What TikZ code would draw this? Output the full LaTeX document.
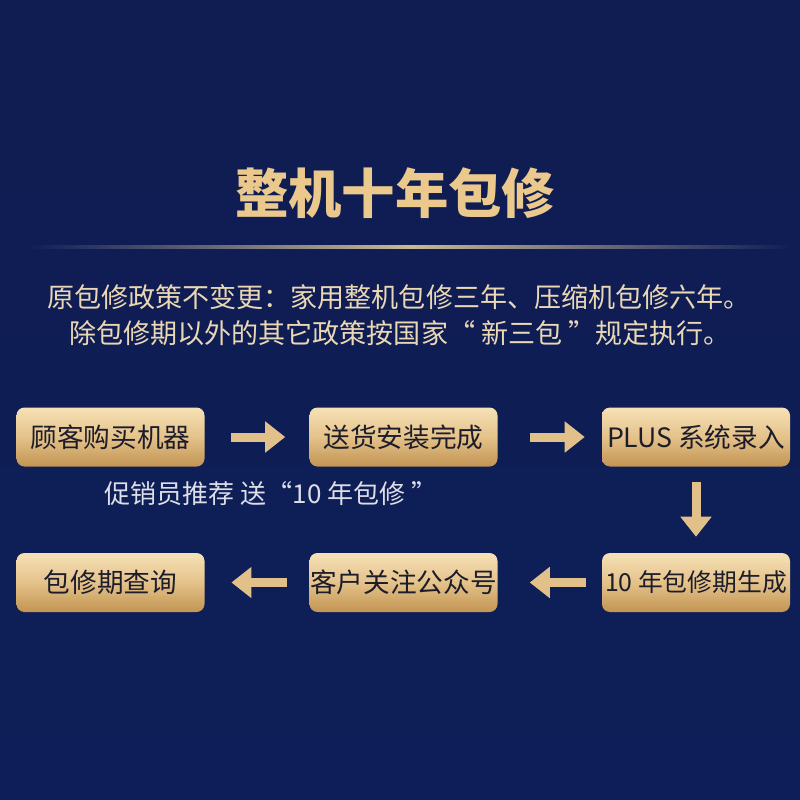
\documentclass[tikz,border=0pt]{standalone}
\usepackage{fontspec}
\setmainfont{Noto Sans CJK SC}
\usetikzlibrary{arrows.meta}
\definecolor{navybg}{HTML}{0E1E58}
\definecolor{navytop}{HTML}{0F1D52}
\definecolor{goldtext}{HTML}{EBC88C}
\definecolor{paletext}{HTML}{EAD7B3}
\definecolor{greytext}{HTML}{DDDEE7}
\definecolor{boxtop}{HTML}{F6E1B6}
\definecolor{boxmid}{HTML}{E4C28A}
\definecolor{boxbot}{HTML}{C29452}
\definecolor{boxtext}{HTML}{1C1C2A}
\definecolor{arrowgold}{HTML}{E2C08A}
\definecolor{linegold}{HTML}{C8B894}
\tikzset{stepbox/.style={rectangle,rounded corners=6pt,minimum width=141pt,minimum height=44.25pt,inner sep=0pt,
    top color=boxtop,bottom color=boxbot,middle color=boxmid,text=boxtext,font=\fontsize{20}{24}\selectfont},
  flowarrow/.style={draw=arrowgold,line width=6.75pt,-{Triangle[width=22.5pt,length=15pt]}}}

\begin{document}
\begin{tikzpicture}[x=0.75pt,y=0.75pt,yscale=-1,xscale=1]
\useasboundingbox (0,0) rectangle (800,800);
% background
\shade[top color=navytop,bottom color=navybg] (0,0) rectangle (800,800);
% line under title
\shade[left color=navybg,right color=navybg,middle color=linegold] (30,245) rectangle (790,248);

% Title
\node (title) at (395,193) [inner sep=0pt,text=goldtext,font=\fontsize{40}{48}\selectfont\bfseries] {整机十年包修};
% Text Node
\node (rule1) at (399,297) [inner sep=0pt,text=paletext,font=\fontsize{20.3}{24}\selectfont] {原包修政策不变更：家用整机包修三年、压缩机包修六年。};
% Text Node
\node (rule2) at (400,333) [inner sep=0pt,text=paletext,font=\fontsize{20.3}{24}\selectfont] {除包修期以外的其它政策按国家“ 新三包 ”规定执行。};

% Steps
\node [stepbox] (buy) at (110.5,437) {顾客购买机器};
\node [stepbox] (deliver) at (403.5,437) {送货安装完成};
\node [stepbox] (plus) at (696,437) {PLUS 系统录入};
\node [stepbox] (query) at (110.5,582.5) {包修期查询};
\node [stepbox] (follow) at (403.5,582.5) {客户关注公众号};
\node [stepbox,font=\fontsize{18.6}{24}\selectfont] (warranty) at (696,582.5) {10 年包修期生成};

% Text Node
\node (gift) at (271,494) [inner sep=0pt,text=greytext,font=\fontsize{19.5}{24}\selectfont] {促销员推荐 送“10 年包修 ”};

% Arrows
\draw [flowarrow,shorten <=19.5pt,shorten >=18pt] (buy) -- (deliver);
\draw [flowarrow,shorten <=24pt,shorten >=12.75pt] (deliver) -- (plus);
\draw [flowarrow,shorten <=11.25pt,shorten >=12pt] (plus) -- (warranty);
\draw [flowarrow,shorten <=12pt,shorten >=24pt] (warranty) -- (follow);
\draw [flowarrow,shorten <=16.5pt,shorten >=20pt] (follow) -- (query);

\end{tikzpicture}
\end{document}
